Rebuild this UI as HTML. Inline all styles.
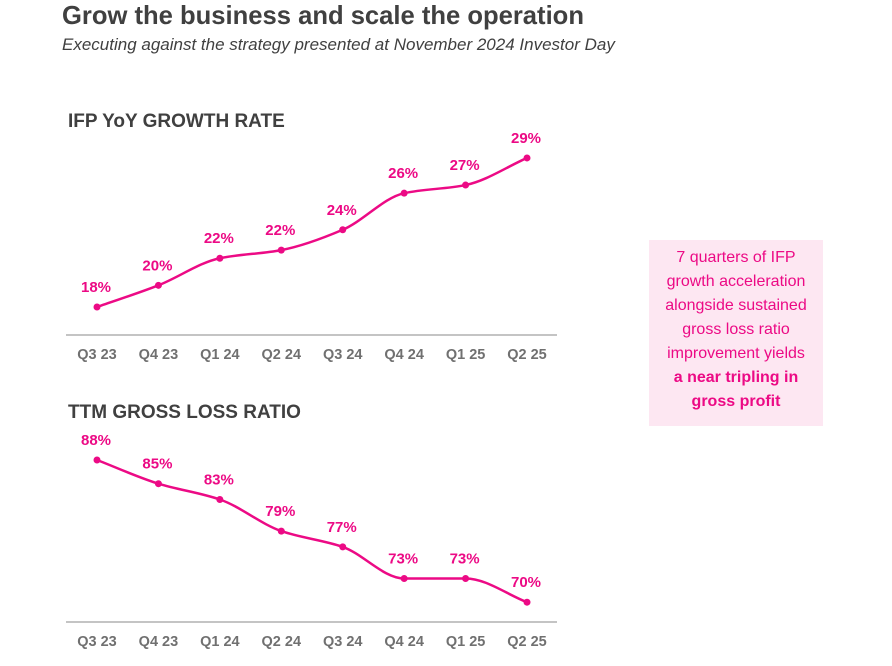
<!DOCTYPE html>
<html><head><meta charset="utf-8"><style>
body{margin:0;width:892px;height:666px;background:#fff;font-family:"Liberation Sans",sans-serif;position:relative;overflow:hidden}
.t{position:absolute;left:62px;top:2px;font-size:25.6px;font-weight:bold;color:#404040}
.s{position:absolute;left:62px;top:35px;font-size:17px;font-style:italic;color:#404040}
.box{position:absolute;left:649px;top:240px;width:174px;height:186px;background:#fde7f2;color:#ec0a85;font-size:16px;line-height:24px;text-align:center;box-sizing:border-box;padding-top:6px}
svg{position:absolute;left:0;top:0}
</style></head><body>
<div class="t">Grow the business and scale the operation</div>
<div class="s">Executing against the strategy presented at November 2024 Investor Day</div>
<div class="box">7 quarters of IFP<br>growth acceleration<br>alongside sustained<br>gross loss ratio<br>improvement yields<br><b>a near tripling in<br>gross profit</b></div>
<svg id="c" width="892" height="666"></svg>
<script>
const categories=["Q3 23","Q4 23","Q1 24","Q2 24","Q3 24","Q4 24","Q1 25","Q2 25"];
const growthValues=[18,19.6,21.6,22.2,23.7,26.4,27,29];
const growthLabels=["18%","20%","22%","22%","24%","26%","27%","29%"];
const lossValues=[88,85,83,79,77,73,73,70];
const lossLabels=["88%","85%","83%","79%","77%","73%","73%","70%"];
const svg=document.getElementById('c');const NS='http://www.w3.org/2000/svg';
const PINK='#ec0a85';
function mk(t,a){const e=document.createElementNS(NS,t);for(const k in a)e.setAttribute(k,a[k]);svg.appendChild(e);return e;}
const xs=i=>97+i*61.43;
function path(p){const n=p.length,d=[],m=[];for(let i=0;i<n-1;i++)d.push((p[i+1][1]-p[i][1])/(p[i+1][0]-p[i][0]));
m[0]=d[0];m[n-1]=d[n-2];for(let i=1;i<n-1;i++){m[i]=(d[i-1]*d[i]<=0)?0:2/(1/d[i-1]+1/d[i]);}
let s='M'+p[0][0]+','+p[0][1];for(let i=0;i<n-1;i++){const h=(p[i+1][0]-p[i][0])/3;s+=`C${p[i][0]+h},${p[i][1]+m[i]*h} ${p[i+1][0]-h},${p[i+1][1]-m[i+1]*h} ${p[i+1][0]},${p[i+1][1]}`;}return s;}
function chart(name,title,titleY,vals,labels,y,axisY){
  const tt=mk('text',{x:68,y:titleY,'font-size':19,'font-weight':'bold',fill:'#404040'});tt.textContent=title;
  
  
  const ax=mk('line',{x1:66,x2:557,y1:axisY,y2:axisY,stroke:'#b0b0b0','stroke-width':1.5});
  
  
  const pts=vals.map((v,i)=>[xs(i),y(v)]);
  const ln=mk('path',{d:path(pts),fill:'none',stroke:PINK,'stroke-width':2.5});
  
  
  pts.forEach((p,i)=>{
    const c=mk('circle',{cx:p[0],cy:p[1],r:3.5,fill:PINK});
    
    
    const l=mk('text',{x:p[0]-1,y:p[1]-15,'text-anchor':'middle','font-size':15,'font-weight':'bold',fill:PINK});l.textContent=labels[i];
    
    
    const k=mk('text',{x:p[0],y:axisY+24,'text-anchor':'middle','font-size':14.5,'font-weight':'bold',fill:'#707070'});k.textContent=categories[i];
    
    
  });
}
chart('growth','IFP YoY GROWTH RATE',127,growthValues,growthLabels,v=>307-(v-18)*13.55,335);
chart('loss','TTM GROSS LOSS RATIO',418,lossValues,lossLabels,v=>460+(88-v)*7.9,622);
</script>
</body></html>
